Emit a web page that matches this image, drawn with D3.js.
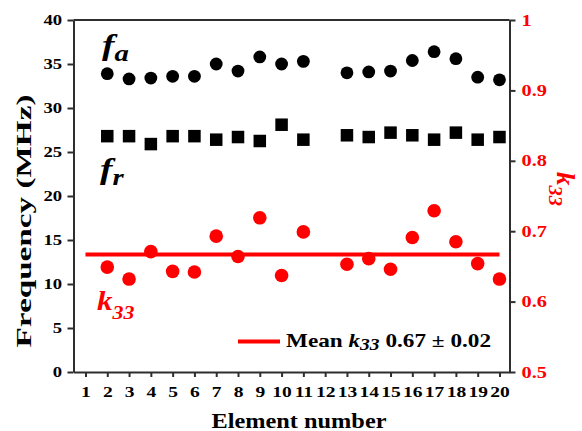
<!DOCTYPE html>
<html>
<head>
<meta charset="utf-8">
<script src="https://cdn.jsdelivr.net/npm/d3@7"></script>
<style>
  html, body { margin: 0; padding: 0; background: #fff; }
  svg { display: block; }
  text { font-family: "Liberation Serif", "Times New Roman", serif; font-weight: bold; }
</style>
</head>
<body>
<svg id="chart" width="582" height="431"></svg>
<script>
// ---- data ----
const elements = [2, 3, 4, 5, 6, 7, 8, 9, 10, 11, 13, 14, 15, 16, 17, 18, 19, 20];
const fa  = [33.9, 33.3, 33.4, 33.6, 33.6, 35.0, 34.2, 35.8, 35.0, 35.3, 34.0, 34.1, 34.2, 35.4, 36.4, 35.6, 33.5, 33.2];
const fr  = [26.8, 26.8, 25.9, 26.8, 26.8, 26.4, 26.7, 26.25, 28.1, 26.4, 26.9, 26.7, 27.2, 26.9, 26.4, 27.2, 26.4, 26.7];
const k33 = [0.649, 0.632, 0.671, 0.643, 0.642, 0.693, 0.664, 0.719, 0.637, 0.699, 0.653, 0.661, 0.646, 0.691, 0.729, 0.685, 0.654, 0.632];
const meanK33 = 0.667;
const meanRange = [1, 20];
const xTicks = d3.range(1, 21);
const yLeftTicks = [0, 5, 10, 15, 20, 25, 30, 35, 40];
const yRightTicks = [0.5, 0.6, 0.7, 0.8, 0.9, 1];
const legendLabel = { pre: "Mean ", k: "k", sub: "33", post: " 0.67 ± 0.02" };

// ---- layout ----
const svg = d3.select("#chart");
const L = 73.5, R = 509.5, T = 20, B = 372;
const RED = "#ff0000", AX = "#2e2e2e";

const x = d3.scaleLinear().domain([0.45, 20.46]).range([L, R]);
const yL = d3.scaleLinear().domain([0, 40]).range([B, T]);
const yR = d3.scaleLinear().domain([0.5, 1]).range([B, T]);

function stretch(sel, k) {
  sel.each(function () {
    const w = this.getComputedTextLength();
    this.setAttribute("textLength", w * k);
    this.setAttribute("lengthAdjust", "spacingAndGlyphs");
  });
}

// frame top line
svg.append("line").attr("x1", L).attr("x2", R).attr("y1", T).attr("y2", T)
  .attr("stroke", AX).attr("stroke-width", 2);

// left axis
const gL = svg.append("g").attr("transform", `translate(${L},0)`)
  .call(d3.axisLeft(yL).tickValues(yLeftTicks).tickSize(6).tickPadding(5.5).tickSizeOuter(0));
gL.selectAll("text").style("font-size", "14px").attr("fill", "#000");
stretch(gL.selectAll("text"), 1.33);

// right axis
const gR = svg.append("g").attr("transform", `translate(${R},0)`)
  .call(d3.axisRight(yR).tickValues(yRightTicks).tickFormat(d3.format("~g")).tickSize(6).tickPadding(6).tickSizeOuter(0));
gR.selectAll("text").style("font-size", "16px").attr("fill", RED);
stretch(gR.selectAll("text"), 1.27);

// bottom axis
const gB = svg.append("g").attr("transform", `translate(0,${B})`)
  .call(d3.axisBottom(x).tickValues(xTicks).tickFormat(d3.format("d")).tickSize(5).tickPadding(9.5).tickSizeOuter(0));
gB.selectAll("text").style("font-size", "15px").attr("fill", "#000");
stretch(gB.selectAll("text"), 1.3);

[gL, gR, gB].forEach(g => {
  g.attr("font-family", null).attr("font-size", null);
  g.selectAll("path.domain").attr("stroke", AX).attr("stroke-width", 2);
  g.selectAll(".tick line").attr("stroke", AX).attr("stroke-width", 2);
});

// mean line
svg.append("line")
  .attr("x1", x(meanRange[0])).attr("x2", x(meanRange[1]))
  .attr("y1", yR(meanK33)).attr("y2", yR(meanK33))
  .attr("stroke", RED).attr("stroke-width", 4);

// fa circles
svg.append("g").selectAll("circle").data(elements).join("circle")
  .attr("cx", d => x(d)).attr("cy", (d, i) => yL(fa[i])).attr("r", 6.4).attr("fill", "#000");

// fr squares
const s = 12.5;
svg.append("g").selectAll("rect").data(elements).join("rect")
  .attr("x", d => x(d) - s / 2).attr("y", (d, i) => yL(fr[i]) - s / 2)
  .attr("width", s).attr("height", s).attr("fill", "#000");

// k33 circles
svg.append("g").selectAll("circle").data(elements).join("circle")
  .attr("cx", d => x(d)).attr("cy", (d, i) => yR(k33[i])).attr("r", 6.8).attr("fill", RED);

// in-plot labels
function subLabel(xp, yp, main, sub, color, mainSize, subSize, dy, k) {
  const t = svg.append("text").attr("x", xp).attr("y", yp).attr("fill", color).style("font-style", "italic");
  t.append("tspan").style("font-size", mainSize + "px").text(main);
  t.append("tspan").attr("dy", dy).style("font-size", subSize + "px").text(sub);
  stretch(t, k);
  return t;
}
subLabel(102, 55, "f", "a", "#000", 30, 23, 6, 1.25);
subLabel(100, 179, "f", "r", "#000", 30, 23, 6, 1.25);
subLabel(97, 310, "k", "33", RED, 27, 19, 9, 1.15);

// axis titles
const yt = svg.append("text").attr("transform", "translate(31,221) rotate(-90)")
  .attr("text-anchor", "middle").style("font-size", "22px").attr("fill", "#000").text("Frequency (MHz)");
yt.attr("textLength", 253).attr("lengthAdjust", "spacingAndGlyphs");

const xt = svg.append("text").attr("x", 299).attr("y", 428)
  .attr("text-anchor", "middle").style("font-size", "20px").attr("fill", "#000").text("Element number");
xt.attr("textLength", 175).attr("lengthAdjust", "spacingAndGlyphs");

const rt = svg.append("text").attr("transform", "translate(557,172) rotate(90)")
  .attr("fill", RED).style("font-style", "italic");
rt.append("tspan").style("font-size", "25px").text("k");
rt.append("tspan").attr("dy", 8).style("font-size", "19px").text("33");
rt.attr("textLength", 34).attr("lengthAdjust", "spacingAndGlyphs");

// legend
svg.append("line").attr("x1", 238).attr("x2", 280).attr("y1", 341.5).attr("y2", 341.5)
  .attr("stroke", RED).attr("stroke-width", 4);
const lg = svg.append("text").attr("x", 286).attr("y", 347).attr("fill", "#000").style("font-size", "19px");
lg.append("tspan").text(legendLabel.pre);
lg.append("tspan").style("font-style", "italic").text(legendLabel.k);
lg.append("tspan").style("font-style", "italic").style("font-size", "16px").attr("dy", 3).text(legendLabel.sub);
lg.append("tspan").attr("dy", -3).text(legendLabel.post);
lg.attr("textLength", 205).attr("lengthAdjust", "spacingAndGlyphs");
</script>
</body>
</html>
